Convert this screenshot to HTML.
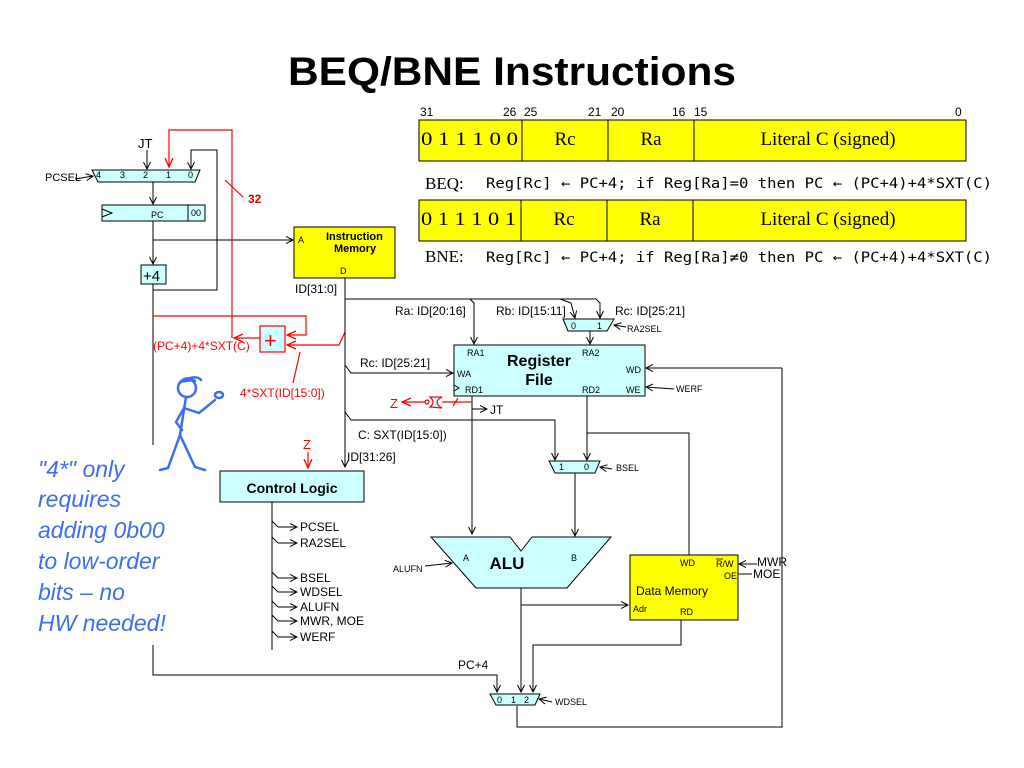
<!DOCTYPE html>
<html><head><meta charset="utf-8"><style>
body{margin:0;background:#fff}
svg{display:block}
text{font-family:"Liberation Sans",sans-serif}
.s{font-size:11px}
.m text{font-family:"DejaVu Sans Mono","Liberation Mono",monospace}
.se text,text.se{font-family:"Liberation Serif",serif}
</style></head><body>
<svg width="1024" height="768" viewBox="0 0 1024 768" xmlns="http://www.w3.org/2000/svg">
<defs>
<marker id="a" markerWidth="8" markerHeight="8" refX="7" refY="4" orient="auto" markerUnits="userSpaceOnUse"><path d="M0,0.5 L7,4 L0,7.5" fill="none" stroke="#000" stroke-width="1"/></marker>
<marker id="r" markerWidth="10" markerHeight="10" refX="9" refY="5" orient="auto" markerUnits="userSpaceOnUse"><path d="M0,1 L9,5 L0,9" fill="none" stroke="#f00" stroke-width="1.3"/></marker>
</defs>
<text x="512" y="85" text-anchor="middle" font-size="40" font-weight="bold" textLength="448" lengthAdjust="spacingAndGlyphs">BEQ/BNE Instructions</text>

<!-- instruction formats -->
<g font-size="12">
<text x="420" y="116">31</text><text x="503" y="116">26</text><text x="524" y="116">25</text><text x="588" y="116">21</text><text x="611" y="116">20</text><text x="672" y="116">16</text><text x="694" y="116">15</text><text x="955" y="116">0</text>
</g>
<g stroke="#000" stroke-width="1" fill="#ff0">
<rect x="419" y="120" width="547" height="41"/><line x1="522" y1="120" x2="522" y2="161"/><line x1="608" y1="120" x2="608" y2="161"/><line x1="694" y1="120" x2="694" y2="161"/>
<rect x="419" y="200" width="547" height="41"/><line x1="521" y1="200" x2="521" y2="241"/><line x1="607" y1="200" x2="607" y2="241"/><line x1="693" y1="200" x2="693" y2="241"/>
</g>
<g class="se" font-size="19">
<text x="421" y="145" textLength="97" lengthAdjust="spacingAndGlyphs">0 1 1 1 0 0</text>
<text x="565" y="145" text-anchor="middle">Rc</text><text x="651" y="145" text-anchor="middle">Ra</text><text x="828" y="145" text-anchor="middle">Literal C (signed)</text>
<text x="421" y="225" textLength="95" lengthAdjust="spacingAndGlyphs">0 1 1 1 0 1</text>
<text x="564" y="225" text-anchor="middle">Rc</text><text x="650" y="225" text-anchor="middle">Ra</text><text x="828" y="225" text-anchor="middle">Literal C (signed)</text>
<text x="425" y="189" font-size="17">BEQ:</text><text x="425" y="262" font-size="17">BNE:</text>
</g>
<g class="m" font-size="14">
<text x="486" y="188" textLength="506" lengthAdjust="spacingAndGlyphs">Reg[Rc] ← PC+4; if Reg[Ra]=0 then PC ← (PC+4)+4*SXT(C)</text>
<text x="486" y="262" textLength="506" lengthAdjust="spacingAndGlyphs">Reg[Rc] ← PC+4; if Reg[Ra]≠0 then PC ← (PC+4)+4*SXT(C)</text>
</g>

<!-- PC section -->
<g stroke="#000" stroke-width="1" fill="none">
<polygon points="92,170 200,170 195,182 98,182" fill="#ccffff"/>
<line x1="75" y1="179" x2="93" y2="176" marker-end="url(#a)"/>
<line x1="147" y1="150" x2="147" y2="169" marker-end="url(#a)"/>
<polyline points="153,290 217,290 217,150 191,150 191,169" marker-end="url(#a)"/>
<line x1="153" y1="182" x2="153" y2="204" marker-end="url(#a)"/>
<rect x="102" y="205" width="103" height="16" fill="#ccffff"/><line x1="188" y1="205" x2="188" y2="221"/>
<polyline points="102,209 112,213 102,217"/>
<line x1="153" y1="221" x2="153" y2="264" marker-end="url(#a)"/>
<line x1="153" y1="240" x2="293" y2="240" marker-end="url(#a)"/>
<rect x="141" y="265" width="25" height="19" fill="#ccffff"/>
<polyline points="153,284 153,445"/>
<polyline points="153,645 153,675 497,675 497,692" marker-end="url(#a)"/>
<rect x="294" y="227" width="101" height="51" fill="#ff0"/>
</g>
<g font-size="9"><text x="96" y="178">4</text><text x="120" y="178">3</text><text x="143" y="178">2</text><text x="166" y="178">1</text><text x="188" y="178">0</text>
<text x="191" y="216">00</text><text x="151" y="218">PC</text><text x="298" y="243">A</text><text x="340" y="274">D</text></g>
<text x="45" y="181" class="s">PCSEL</text>
<text x="138" y="148" font-size="13">JT</text>
<text x="143" y="281" font-size="15">+4</text>
<text x="326" y="240" font-size="11" font-weight="bold">Instruction</text>
<text x="334" y="252" font-size="11" font-weight="bold">Memory</text>
<text x="295" y="293" font-size="12">ID[31:0]</text>

<!-- red branch adder -->
<g stroke="#f00" stroke-width="1.2" fill="none">
<polyline points="232,338 232,130 169,130 169,167" marker-end="url(#r)"/>
<line x1="225" y1="180" x2="243" y2="197"/>
<polyline points="153,316 306,316 306,335 287,335" marker-end="url(#r)"/>
<polyline points="345,332 339,345 287,345" marker-end="url(#r)"/>
<line x1="260" y1="338" x2="234" y2="338" marker-end="url(#r)"/>
<rect x="260" y="326" width="25" height="26" fill="#ccffff"/>
<line x1="300" y1="352" x2="293" y2="383"/>
</g>
<text x="248" y="203" font-size="12" font-weight="bold" fill="#d00">32</text>
<text x="264" y="348" font-size="22" fill="#f00">+</text>
<text x="153" y="350" font-size="12" fill="#f00">(PC+4)+4*SXT(C)</text>
<text x="240" y="397" font-size="12" fill="#f00">4*SXT(ID[15:0])</text>

<!-- ID bus -->
<g stroke="#000" stroke-width="1" fill="none">
<line x1="345" y1="278" x2="345" y2="467" marker-end="url(#a)"/>
<polyline points="345,299 470,299 474,303 474,344" marker-end="url(#a)"/>
<polyline points="470,299 596,299 600,303 600,318" marker-end="url(#a)"/>
<polyline points="560,299 571,303 575,318" marker-end="url(#a)"/>
<polygon points="563,319 614,319 607,331 568,331" fill="#ccffff"/>
<line x1="626" y1="327" x2="614" y2="325" marker-end="url(#a)"/>
<line x1="590" y1="331" x2="590" y2="344" marker-end="url(#a)"/>
<polyline points="345,365 351,373 453,373" marker-end="url(#a)"/>
<rect x="454" y="345" width="191" height="51" fill="#ccffff"/>
<polyline points="454,385 459,388 454,391"/>
<polyline points="782,368 782,727 517,727 517,706"/>
<line x1="782" y1="368" x2="646" y2="368" marker-end="url(#a)"/>
<line x1="674" y1="389" x2="646" y2="387" marker-end="url(#a)"/>
<line x1="472" y1="396" x2="472" y2="534" marker-end="url(#a)"/>
<line x1="472" y1="409" x2="487" y2="409" marker-end="url(#a)"/>
<polyline points="345,412 351,420 555,420 555,460" marker-end="url(#a)"/>
<line x1="587" y1="396" x2="587" y2="460" marker-end="url(#a)"/>
<polyline points="587,433 689,433 689,555"/>
<polygon points="549,461 600,461 595,473 555,473" fill="#ccffff"/>
<line x1="612" y1="469" x2="600" y2="467" marker-end="url(#a)"/>
<line x1="575" y1="473" x2="575" y2="536" marker-end="url(#a)"/>
<polygon points="431,537 510,537 521,551 532,537 611,537 567,588 476,588" fill="#ccffff"/>
<line x1="425" y1="566" x2="452" y2="563" marker-end="url(#a)"/>
<line x1="521" y1="588" x2="521" y2="692" marker-end="url(#a)"/>
<line x1="521" y1="605" x2="628" y2="605" marker-end="url(#a)"/>
<rect x="630" y="555" width="108" height="65" fill="#ff0"/>
<line x1="757" y1="564" x2="739" y2="564" marker-end="url(#a)"/>
<line x1="752" y1="574" x2="738" y2="574"/>
<polyline points="681,620 681,645 533,645 533,692" marker-end="url(#a)"/>
<polygon points="490,694 540,694 535,705 496,705" fill="#ccffff"/>
<line x1="552" y1="702" x2="539" y2="699" marker-end="url(#a)"/>
<rect x="220" y="471" width="144" height="31" fill="#ccffff"/>
<line x1="272" y1="502" x2="272" y2="650"/>
<g>
<path d="M272,521 l6,6 h19" marker-end="url(#a)"/>
<path d="M272,537 l6,6 h19" marker-end="url(#a)"/>
<path d="M272,572 l6,6 h19" marker-end="url(#a)"/>
<path d="M272,586 l6,6 h19" marker-end="url(#a)"/>
<path d="M272,601 l6,6 h19" marker-end="url(#a)"/>
<path d="M272,615 l6,6 h19" marker-end="url(#a)"/>
<path d="M272,631 l6,6 h19" marker-end="url(#a)"/>
</g>
</g>
<g font-size="12">
<text x="395" y="315">Ra: ID[20:16]</text><text x="496" y="315">Rb: ID[15:11]</text><text x="615" y="315">Rc: ID[25:21]</text>
<text x="360" y="367">Rc: ID[25:21]</text><text x="358" y="439">C: SXT(ID[15:0])</text><text x="347" y="461">ID[31:26]</text>
<text x="490" y="414">JT</text><text x="458" y="669">PC+4</text>
<text x="300" y="531">PCSEL</text><text x="300" y="547">RA2SEL</text><text x="300" y="582">BSEL</text><text x="300" y="596">WDSEL</text><text x="300" y="611">ALUFN</text><text x="300" y="625">MWR, MOE</text><text x="300" y="641">WERF</text>
<text x="757" y="566">MWR</text><text x="753" y="578">MOE</text>
<text x="636" y="595">Data Memory</text>
</g>
<g font-size="9">
<text x="571" y="329">0</text><text x="597" y="329">1</text><text x="627" y="332">RA2SEL</text>
<text x="467" y="356">RA1</text><text x="582" y="356">RA2</text><text x="457" y="377">WA</text><text x="465" y="393">RD1</text><text x="582" y="393">RD2</text><text x="626" y="373">WD</text><text x="626" y="393">WE</text>
<text x="676" y="392">WERF</text>
<text x="559" y="470">1</text><text x="584" y="470">0</text><text x="616" y="471">BSEL</text>
<text x="463" y="561">A</text><text x="571" y="561">B</text><text x="393" y="572">ALUFN</text>
<text x="680" y="566">WD</text><text x="716" y="567">R/W</text><text x="724" y="579">OE</text><text x="633" y="612">Adr</text><text x="680" y="615">RD</text>
<text x="497" y="703">0</text><text x="511" y="703">1</text><text x="524" y="703">2</text><text x="555" y="705">WDSEL</text>
</g>
<line x1="716" y1="559" x2="723" y2="559" stroke="#000" stroke-width="0.8"/>
<text x="539" y="366" font-size="16" font-weight="bold" text-anchor="middle">Register</text>
<text x="539" y="385" font-size="16" font-weight="bold" text-anchor="middle">File</text>
<text x="507" y="569" font-size="17" font-weight="bold" text-anchor="middle">ALU</text>
<text x="292" y="493" font-size="14" font-weight="bold" text-anchor="middle">Control Logic</text>

<!-- Z gate -->
<g stroke="#f00" stroke-width="1.2" fill="none">
<line x1="472" y1="402" x2="442" y2="402"/>
<line x1="453" y1="406" x2="458" y2="398"/>
<path d="M442,397 Q432,402 442,408 L430,407 Q436,402 430,397 Z" fill="#ccffff"/>
<circle cx="427" cy="402" r="2"/>
<line x1="425" y1="402" x2="402" y2="402" marker-end="url(#r)"/>
<line x1="308" y1="452" x2="308" y2="468" marker-end="url(#r)"/>
</g>
<text x="390" y="408" font-size="13" fill="#f00">Z</text>
<text x="303" y="449" font-size="13" fill="#f00">Z</text>

<!-- stick figure -->
<g stroke="#3b6ef0" stroke-width="2.5" fill="none" stroke-linecap="round">
<circle cx="187" cy="388" r="9"/>
<path d="M180,383 Q185,375 195,381" fill="#3b6ef0"/>
<path d="M190,378 Q198,376 201,380"/>
<line x1="186" y1="397" x2="180" y2="435"/>
<path d="M184,408 L176,422 L182,430"/>
<path d="M184,408 L199,413 L215,400"/>
<ellipse cx="219" cy="395" rx="4" ry="3"/>
<path d="M180,435 L168,468 L160,470"/>
<path d="M180,435 L195,467 L205,470"/>
</g>
<g fill="#3b6ef0" font-size="23" font-style="italic">
<text x="38" y="477">"4*" only</text>
<text x="38" y="507">requires</text>
<text x="38" y="538">adding 0b00</text>
<text x="38" y="569">to low-order</text>
<text x="38" y="600">bits – no</text>
<text x="38" y="631">HW needed!</text>
</g>
</svg>
</body></html>
